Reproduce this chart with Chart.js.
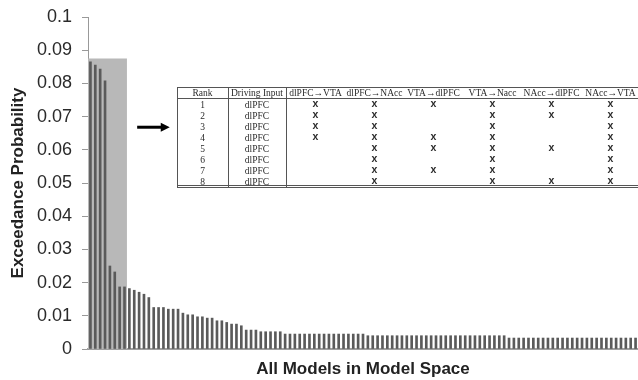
<!DOCTYPE html>
<html>
<head>
<meta charset="utf-8">
<script src="https://cdn.jsdelivr.net/npm/chart.js@4.4.0/dist/chart.umd.min.js"></script>
<style>
html, body { margin: 0; padding: 0; background: #fff; }
</style>
</head>
<body>
<canvas id="chart" width="638" height="380"></canvas>
<script>
// exceedance probability per model, sorted high to low
const probs = [
  0.0865, 0.0855, 0.0843, 0.0808, 0.0250, 0.0232, 0.0187, 0.0187,
  0.0182, 0.0177, 0.0171, 0.0165, 0.0155,
  0.0125, 0.0125, 0.0125, 0.0120, 0.0120, 0.0120,
  0.0108, 0.0103, 0.0103,
  0.0097, 0.0097, 0.0093, 0.0093, 0.0085, 0.0085, 0.0080, 0.0075, 0.0075, 0.0070,
  0.0057, 0.0057, 0.0057,
  0.0052, 0.0052, 0.0052, 0.0052, 0.0052,
  0.0045, 0.0045, 0.0045, 0.0045, 0.0045, 0.0045, 0.0045, 0.0045, 0.0045,
  0.0045, 0.0045, 0.0045, 0.0045, 0.0045, 0.0045, 0.0045, 0.0045,
  0.0040, 0.0040, 0.0040, 0.0040, 0.0040, 0.0040, 0.0040, 0.0040, 0.0040, 0.0040,
  0.0040, 0.0040, 0.0040, 0.0040, 0.0040, 0.0040, 0.0040, 0.0040, 0.0040, 0.0040,
  0.0040, 0.0040, 0.0040, 0.0040, 0.0040, 0.0040, 0.0040, 0.0040, 0.0040,
  0.0033, 0.0033, 0.0033, 0.0033, 0.0033, 0.0033, 0.0033, 0.0033, 0.0033,
  0.0033, 0.0033, 0.0033, 0.0033, 0.0033, 0.0033, 0.0033, 0.0033, 0.0033,
  0.0033, 0.0033, 0.0033, 0.0033, 0.0033, 0.0033, 0.0033, 0.0033, 0.0033
];
const models = probs.map((p, i) => 'Model ' + (i + 1));

const topCount = 8;          // models highlighted by the grey box
const boxTop = 0.0875;
const arrowFrom = [9.6, 0.0668];   // [model index, probability]
const arrowTo = [16.3, 0.0668];

// inset table
const tableHeaders = ['Rank', 'Driving Input', 'dlPFC\u2192VTA', 'dlPFC\u2192NAcc', 'VTA\u2192dlPFC', 'VTA\u2192Nacc', 'NAcc\u2192dlPFC', 'NAcc\u2192VTA'];
const ranks = [1, 2, 3, 4, 5, 6, 7, 8];
const drivingInput = ['dlPFC', 'dlPFC', 'dlPFC', 'dlPFC', 'dlPFC', 'dlPFC', 'dlPFC', 'dlPFC'];
const connDlpfcVta  = [1, 1, 1, 1, 0, 0, 0, 0];
const connDlpfcNacc = [1, 1, 1, 1, 1, 1, 1, 1];
const connVtaDlpfc  = [1, 0, 0, 1, 1, 0, 1, 0];
const connVtaNacc   = [1, 1, 1, 1, 1, 1, 1, 1];
const connNaccDlpfc = [1, 1, 0, 0, 1, 0, 0, 1];
const connNaccVta   = [1, 1, 1, 1, 1, 1, 1, 1];
const colWidths = [51, 58, 59, 59, 59, 59, 59, 59];

// grey box behind the top models
const shadeBox = {
  id: 'shadeBox',
  beforeDatasetsDraw(chart) {
    const { ctx, scales: { x, y }, chartArea } = chart;
    const half = (x.getPixelForValue(1) - x.getPixelForValue(0)) / 2;
    const right = x.getPixelForValue(topCount - 1) + half;
    const top = y.getPixelForValue(boxTop);
    ctx.save();
    ctx.fillStyle = '#b8b8b8';
    ctx.fillRect(chartArea.left, top, right - chartArea.left, y.getPixelForValue(0) - top);
    ctx.restore();
  }
};

// arrow pointing at the table
const arrow = {
  id: 'arrow',
  afterDatasetsDraw(chart) {
    const { ctx, scales: { x, y } } = chart;
    const x1 = x.getPixelForValue(arrowFrom[0]), y1 = y.getPixelForValue(arrowFrom[1]);
    const x2 = x.getPixelForValue(arrowTo[0]), y2 = y.getPixelForValue(arrowTo[1]);
    ctx.save();
    ctx.strokeStyle = '#000';
    ctx.fillStyle = '#000';
    ctx.lineWidth = 3;
    ctx.beginPath();
    ctx.moveTo(x1, y1);
    ctx.lineTo(x2 - 7, y2);
    ctx.stroke();
    ctx.beginPath();
    ctx.moveTo(x2, y2);
    ctx.lineTo(x2 - 9, y2 - 4.5);
    ctx.lineTo(x2 - 9, y2 + 4.5);
    ctx.closePath();
    ctx.fill();
    ctx.restore();
  }
};

// the ranked-model table, drawn on the canvas
const insetTable = {
  id: 'insetTable',
  afterDraw(chart) {
    const ctx = chart.ctx;
    const left = 177, top = 87, headH = 11, rowH = 11;
    const right = left + colWidths.reduce((a, b) => a + b, 0);
    const bottom = top + headH + rowH * ranks.length;
    const edges = [left];
    colWidths.forEach(w => edges.push(edges[edges.length - 1] + w));
    const conns = [connDlpfcVta, connDlpfcNacc, connVtaDlpfc, connVtaNacc, connNaccDlpfc, connNaccVta];

    ctx.save();
    ctx.fillStyle = '#fff';
    ctx.fillRect(left, top, right - left, bottom - top + 2);
    ctx.strokeStyle = '#555';
    ctx.lineWidth = 1;
    ctx.beginPath();
    ctx.moveTo(left, top + 0.5); ctx.lineTo(right, top + 0.5);
    ctx.moveTo(left, top + headH + 0.5); ctx.lineTo(right, top + headH + 0.5);
    ctx.moveTo(left, bottom - 0.5); ctx.lineTo(right, bottom - 0.5);
    ctx.moveTo(left, bottom + 1.5); ctx.lineTo(right, bottom + 1.5);
    [edges[0], edges[1], edges[2]].forEach(e => { ctx.moveTo(e + 0.5, top); ctx.lineTo(e + 0.5, bottom + 2); });
    ctx.stroke();

    ctx.textAlign = 'center';
    ctx.textBaseline = 'middle';
    ctx.fillStyle = '#2a2a2a';
    ctx.font = '9.5px "Liberation Serif"';
    tableHeaders.forEach((h, i) => ctx.fillText(h, (edges[i] + edges[i + 1]) / 2, top + headH / 2 + 1));
    ranks.forEach((r, ri) => {
      const cy = top + headH + rowH * ri + rowH / 2 + 1.5;
      ctx.font = '9.5px "Liberation Serif"';
      ctx.fillText(String(r), (edges[0] + edges[1]) / 2, cy);
      ctx.fillText(drivingInput[ri], (edges[1] + edges[2]) / 2, cy);
      ctx.font = 'bold 10.5px "Liberation Sans"';
      conns.forEach((c, ci) => {
        if (c[ri]) ctx.fillText('x', (edges[ci + 2] + edges[ci + 3]) / 2, cy - 1);
      });
    });
    ctx.restore();
  }
};

new Chart(document.getElementById('chart'), {
  type: 'bar',
  data: {
    labels: models,
    datasets: [{
      data: probs,
      backgroundColor: '#5a5a5a',
      barThickness: 2
    }]
  },
  options: {
    responsive: false,
    animation: false,
    devicePixelRatio: 1,
    layout: { padding: { top: 17, right: 0, bottom: 0, left: 0 } },
    plugins: { legend: { display: false }, tooltip: { enabled: false } },
    scales: {
      x: {
        offset: true,
        ticks: { display: false },
        grid: { display: false },
        border: { display: true, color: '#a0a0a0', width: 2 },
        title: {
          display: true, text: 'All Models in Model Space', color: '#222',
          font: { family: 'Liberation Sans', size: 17, weight: 'bold' },
          padding: { top: 0, bottom: 0 }
        },
        afterFit(s) { s.height = 31; }
      },
      y: {
        min: 0, max: 0.1,
        ticks: {
          stepSize: 0.01, color: '#2a2a2a', padding: 10,
          font: { family: 'Liberation Sans', size: 18 },
          callback: v => String(+v.toFixed(2))
        },
        grid: { drawOnChartArea: false, drawTicks: true, tickLength: 6, color: '#999' },
        border: { display: true, color: '#999', width: 1 },
        title: {
          display: true, text: 'Exceedance Probability', color: '#222',
          font: { family: 'Liberation Sans', size: 17, weight: 'bold' },
          padding: { top: 8, bottom: 0 }
        },
        afterFit(s) { s.width = 88; s.paddingTop = 0; s.paddingBottom = 0; }
      }
    }
  },
  plugins: [shadeBox, arrow, insetTable]
});
</script>
</body>
</html>
